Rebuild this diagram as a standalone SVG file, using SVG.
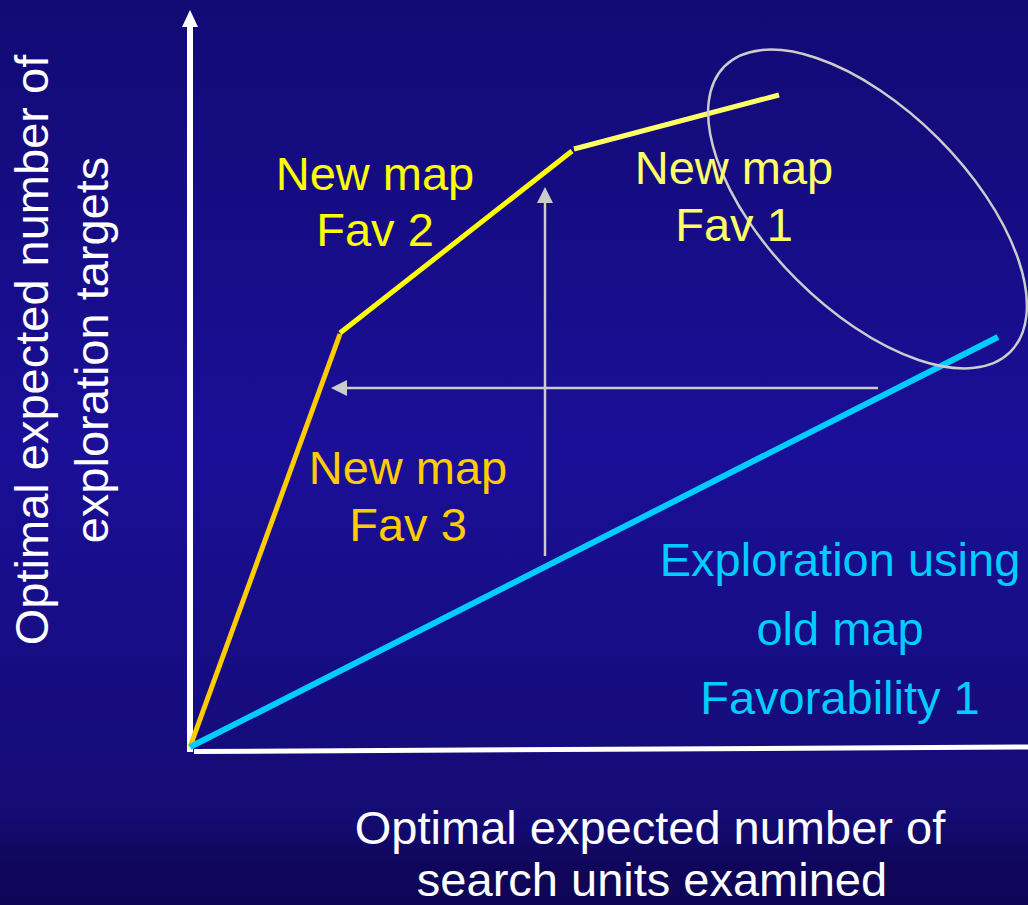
<svg xmlns="http://www.w3.org/2000/svg" width="1028" height="905" viewBox="0 0 1028 905">
  <defs>
    <linearGradient id="bg" x1="0" y1="0" x2="0" y2="1">
      <stop offset="0" stop-color="#120a74"/>
      <stop offset="0.5" stop-color="#1a0f97"/>
      <stop offset="0.9" stop-color="#140b74"/>
      <stop offset="0.955" stop-color="#0f065c"/>
      <stop offset="1" stop-color="#0e0556"/>
    </linearGradient>
  </defs>
  <style>
    text { font-family: "Liberation Sans", Arial, sans-serif; font-size: 47px; text-anchor: middle; }
    .white { fill: #ffffff; }
    .yellow { fill: #ffff00; }
    .paleyellow { fill: #ffff66; }
    .orange { fill: #ffcc00; }
    .cyan { fill: #00ccff; }
    .curve { fill: none; stroke-linecap: butt; }
    .guide { stroke: #cccccc; stroke-width: 2.5; fill: none; }
  </style>

  <!-- slide background -->
  <rect x="0" y="0" width="1028" height="905" fill="url(#bg)"/>

  <!-- axes -->
  <g id="axes">
    <line x1="190" y1="26" x2="190" y2="752" stroke="#ffffff" stroke-width="6"/>
    <polygon points="190,10 182,27 198,27" fill="#ffffff"/>
    <line x1="194" y1="751.5" x2="1028" y2="747" stroke="#ffffff" stroke-width="5"/>
  </g>

  <!-- curves and guide arrows -->
  <g id="connectors">
    <line class="curve" x1="190" y1="747" x2="340" y2="334" stroke="#ffcc00" stroke-width="5"/>
    <line class="curve" x1="340" y1="333" x2="572" y2="151" stroke="#ffff00" stroke-width="5"/>
    <line class="curve" x1="574" y1="149" x2="779" y2="95" stroke="#ffff66" stroke-width="5"/>
    <line class="curve" x1="190" y1="747" x2="998" y2="337" stroke="#00ccff" stroke-width="6"/>

    <line class="guide" x1="878" y1="388" x2="345" y2="388"/>
    <polygon points="331,388 347,380 347,396" fill="#cccccc"/>
    <line class="guide" x1="545" y1="556" x2="545" y2="200"/>
    <polygon points="545,187 537,203 553,203" fill="#cccccc"/>

    <ellipse cx="867.5" cy="209" rx="202" ry="100" transform="rotate(45 867.5 209)" fill="none" stroke="#cccccc" stroke-width="2.5"/>
  </g>

  <!-- labels -->
  <g id="label-fav2">
    <text class="yellow" x="375" y="190">New map</text>
    <text class="yellow" x="375" y="246">Fav 2</text>
  </g>
  <g id="label-fav1">
    <text class="paleyellow" x="734" y="184">New map</text>
    <text class="paleyellow" x="734" y="241">Fav 1</text>
  </g>
  <g id="label-fav3">
    <text class="orange" x="408" y="484">New map</text>
    <text class="orange" x="408" y="541">Fav 3</text>
  </g>
  <g id="label-old">
    <text class="cyan" x="840" y="576">Exploration using</text>
    <text class="cyan" x="840" y="645">old map</text>
    <text class="cyan" x="840" y="714">Favorability 1</text>
  </g>

  <g id="x-axis-title">
    <text class="white" x="650" y="844">Optimal expected number of</text>
    <text class="white" x="652" y="896">search units examined</text>
  </g>
  <g id="y-axis-title" transform="translate(48 350) rotate(-90)">
    <text class="white" x="0" y="0">Optimal expected number of</text>
    <text class="white" x="0" y="60">exploration targets</text>
  </g>
</svg>
